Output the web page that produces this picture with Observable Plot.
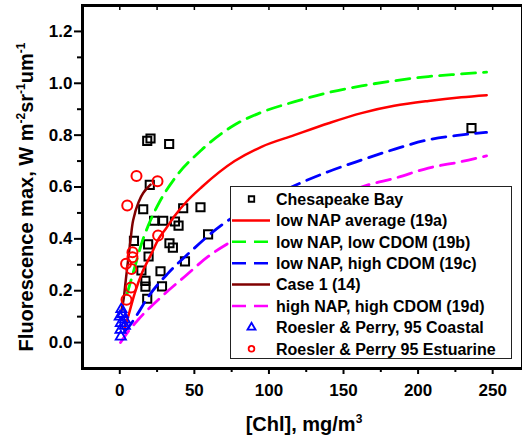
<!DOCTYPE html>
<html><head><meta charset="utf-8">
<script src="https://cdn.jsdelivr.net/npm/d3@7"></script>
<script src="https://cdn.jsdelivr.net/npm/@observablehq/plot@0.6"></script>
<style>html,body{margin:0;padding:0;background:#fff;} svg{display:block;}</style>
</head><body><div id="chart"></div>
<script>
// ---- Data ----
const chesapeakeChl = [18.4,20.6,33.1,20.1,15.7,42.5,54.1,23.0,29.1,37.0,39.4,9.5,19.0,33.3,35.6,19.3,59.2,14.5,27.3,43.7,17.2,17.2,28.3,18.4,235.8];
const chesapeakeF   = [0.778,0.787,0.766,0.608,0.514,0.518,0.522,0.470,0.470,0.467,0.451,0.392,0.379,0.383,0.366,0.332,0.417,0.278,0.275,0.313,0.238,0.216,0.217,0.169,0.827];

const coastalChl = [1.1,0.0,3.4,0.7,3.4,0.5,0.7,2.0];
const coastalF   = [0.129,0.100,0.088,0.075,0.064,0.049,0.023,0.110];

const estuarineChl = [11.2,25.3,5.0,25.7,8.5,8.5,4.2,7.8,7.5,4.5];
const estuarineF   = [0.642,0.622,0.529,0.413,0.348,0.329,0.304,0.284,0.212,0.165];

const lowNapAvgChl = [3,5.6,10,15,21,26,31,37,45,55,77,95,117,140,162,184,207,229,246];
const lowNapAvgF   = [0.05,0.10,0.19,0.27,0.34,0.40,0.44,0.49,0.545,0.60,0.70,0.755,0.80,0.846,0.885,0.913,0.932,0.946,0.954];

const lowNapLowCdomChl = [5,8,11,14.5,19,26.8,36.9,54.8,77.1,95,117.3,139.7,162.1,184.4,206.8,229.2,245.9];
const lowNapLowCdomF   = [0.19,0.25,0.31,0.38,0.45,0.544,0.634,0.743,0.84,0.888,0.929,0.964,0.99,1.010,1.026,1.036,1.043];

const lowNapHighCdomChl = [3,6.5,10.1,19.5,32,46.4,68.2,95,121.8,139.7,162.1,184.4,206.8,229.2,245.9];
const lowNapHighCdomF   = [0.04,0.064,0.094,0.18,0.265,0.345,0.453,0.543,0.617,0.659,0.704,0.746,0.782,0.801,0.811];

const case1Chl = [1,2.3,4,5.6,7.3,9,12.4,15.7,20.6];
const case1F   = [0.12,0.158,0.24,0.32,0.40,0.473,0.538,0.577,0.609];

const highNapHighCdomChl = [0.5,5.6,12.3,28,43.6,59.3,74.9,121.8,166.5,184.4,206.8,229.2,245.9];
const highNapHighCdomF   = [0.0,0.042,0.088,0.177,0.255,0.332,0.39,0.50,0.608,0.634,0.673,0.698,0.72];

const xTicks = [0,50,100,150,200,250];
const xMinor = [25,75,125,175,225];
const xTop   = [0,25,50,75,100,125,150,175,200,225,250];
const yTicks = [0.0,0.2,0.4,0.6,0.8,1.0,1.2];
const yMinor = [0.1,0.3,0.5,0.7,0.9,1.1];

const legendNames = ["Chesapeake Bay","low NAP average (19a)","low NAP, low CDOM (19b)","low NAP, high CDOM (19c)","Case 1 (14)","high NAP, high CDOM (19d)","Roesler & Perry, 95 Coastal","Roesler & Perry 95 Estuarine"];

// ---- Build tables ----
const zip = (xs, ys) => xs.map((x, i) => ({chl: x, f: ys[i]}));
const chesapeake = zip(chesapeakeChl, chesapeakeF);
const coastal = zip(coastalChl, coastalF);
const estuarine = zip(estuarineChl, estuarineF);
const lowNapAvg = zip(lowNapAvgChl, lowNapAvgF);
const lowNapLowCdom = zip(lowNapLowCdomChl, lowNapLowCdomF);
const lowNapHighCdom = zip(lowNapHighCdomChl, lowNapHighCdomF);
const case1 = zip(case1Chl, case1F);
const highNapHighCdom = zip(highNapHighCdomChl, highNapHighCdomF);

const FONT = "Arial, 'Liberation Sans', Helvetica, sans-serif";
const W = 522, H = 439, mL = 82, mT = 5, mR = 0, mB = 71;
const plotW = W - mL - mR, plotH = H - mT - mB;
const DASH = "14,8";

const plot = Plot.plot({
  width: W, height: H,
  marginLeft: mL, marginTop: mT, marginRight: mR, marginBottom: mB,
  style: {fontFamily: FONT, background: "white", color: "black"},
  x: {domain: [-25, 270]},
  y: {domain: [-0.1, 1.3]},
  marks: [
    Plot.axisX(xTicks, {anchor: "bottom", tickSize: 6, tickPadding: 9, fontSize: 17, fontWeight: "bold", strokeWidth: 2, label: null, tickFormat: d => String(d)}),
    Plot.tickX(xMinor, {x: d => d, insetTop: plotH, insetBottom: -4, strokeWidth: 2}),
    Plot.tickX(xTop, {x: d => d, insetBottom: plotH - 5, strokeWidth: 1.5}),
    Plot.axisY(yTicks, {anchor: "left", tickSize: 8, tickPadding: 2, fontSize: 17, fontWeight: "bold", strokeWidth: 2, label: null, tickFormat: d => d.toFixed(1)}),
    Plot.tickY(yMinor, {y: d => d, insetLeft: -5, insetRight: plotW, strokeWidth: 2}),

    Plot.dot(chesapeake, {x: "chl", y: "f", symbol: "square", r: 4.6, stroke: "black", strokeWidth: 2, fill: "none"}),

    Plot.line(lowNapAvg, {x: "chl", y: "f", curve: "monotone-x", stroke: "#ff0000", strokeWidth: 2.5}),
    Plot.line(lowNapLowCdom, {x: "chl", y: "f", curve: "monotone-x", stroke: "#00ff00", strokeWidth: 2.8, strokeDasharray: DASH}),
    Plot.line(lowNapHighCdom, {x: "chl", y: "f", curve: "monotone-x", stroke: "#0000ff", strokeWidth: 2.8, strokeDasharray: DASH}),
    Plot.line(case1, {x: "chl", y: "f", curve: "monotone-y", stroke: "#800000", strokeWidth: 2.5}),
    Plot.line(highNapHighCdom, {x: "chl", y: "f", curve: "monotone-x", stroke: "#ff00ff", strokeWidth: 2.8, strokeDasharray: DASH}),

    Plot.dot(coastal, {x: "chl", y: "f", symbol: "triangle", r: 3.8, stroke: "#0000ff", strokeWidth: 1.8, fill: "none"}),
    Plot.dot(estuarine, {x: "chl", y: "f", symbol: "circle", r: 5, stroke: "#ff0000", strokeWidth: 2, fill: "none"}),

    Plot.frame({stroke: "black", strokeWidth: 3})
  ]
});
document.getElementById("chart").appendChild(plot);

// ---- Titles and legend (inside the same SVG) ----
const svg = d3.select(plot);

function supText(g, parts) {
  parts.forEach((p, i) => {
    const t = g.append("tspan").text(p.t);
    if (p.sup) { t.attr("font-size", 12).attr("dy", -8); }
    else if (i > 0 && parts[i - 1].sup) { t.attr("dy", 8); }
  });
}

const yt = svg.append("text")
  .attr("transform", "translate(33,197) rotate(-90)")
  .attr("text-anchor", "middle").attr("font-family", FONT)
  .attr("font-weight", "bold").attr("font-size", 20).attr("fill", "black");
supText(yt, [{t: "Fluorescence max, W m"}, {t: "-2", sup: true}, {t: "sr"}, {t: "-1", sup: true}, {t: "um"}, {t: "-1", sup: true}]);

const xt = svg.append("text")
  .attr("x", 304).attr("y", 431)
  .attr("text-anchor", "middle").attr("font-family", FONT)
  .attr("font-weight", "bold").attr("font-size", 20).attr("fill", "black");
supText(xt, [{t: "[Chl], mg/m"}, {t: "3", sup: true}]);

const legendStyles = [
  {sym: d3.symbolSquare, size: 30, color: "black"},
  {line: true, color: "#ff0000"},
  {line: true, color: "#00ff00", dash: DASH},
  {line: true, color: "#0000ff", dash: DASH},
  {line: true, color: "#800000"},
  {line: true, color: "#ff00ff", dash: DASH},
  {sym: d3.symbolTriangle, size: 28, color: "#0000ff"},
  {sym: d3.symbolCircle, size: 26, color: "#ff0000"}
];
const lg = svg.append("g").attr("font-family", FONT).attr("font-weight", "bold").attr("font-size", 16).attr("text-anchor", "start");
lg.append("rect").attr("x", 230.5).attr("y", 186.5).attr("width", 281).attr("height", 172)
  .attr("fill", "white").attr("stroke", "#222").attr("stroke-width", 1);
legendNames.forEach((name, i) => {
  const y = 199 + i * 21.4;
  const s = legendStyles[i];
  if (s.line) {
    lg.append("line").attr("x1", 232).attr("x2", 270).attr("y1", y).attr("y2", y)
      .attr("stroke", s.color).attr("stroke-width", 2.5).attr("stroke-dasharray", s.dash || null);
  } else {
    lg.append("path").attr("d", d3.symbol(s.sym, s.size)()).attr("transform", `translate(251.5,${y})`)
      .attr("fill", "none").attr("stroke", s.color).attr("stroke-width", 1.8);
  }
  lg.append("text").attr("x", 276).attr("y", y).attr("dy", "0.36em").attr("text-anchor", "start").attr("fill", "black").text(name);
});
</script>
</body></html>
